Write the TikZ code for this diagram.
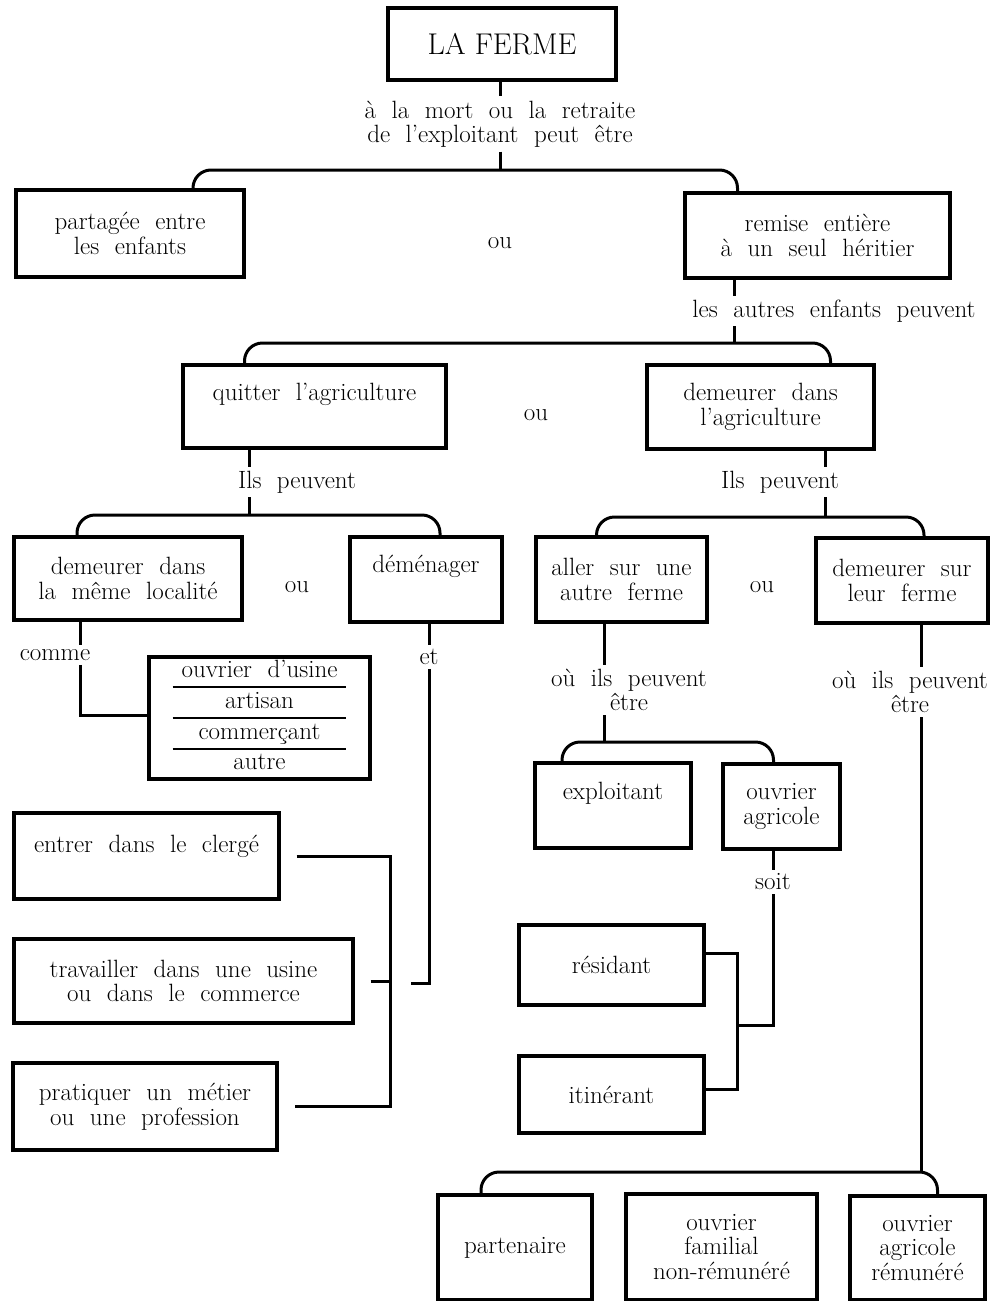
\documentclass[tikz,border=0pt]{standalone}
\usepackage{tikz}
\usetikzlibrary{positioning, calc}
\newcommand{\fermetext}{\fontsize{25}{24.5}\selectfont\spaceskip=0.62em plus 0.1em\relax}
\newcommand{\fermetitle}{\fontsize{30}{30}\selectfont}

\begin{document}
\begin{tikzpicture}[
    x=1pt, y=-1pt,
    box/.style={rectangle, draw, line width=3.2pt, align=center,
                inner sep=2pt, font=\fermetext},
    topbox/.style={box, inner ysep=0pt},
    listbox/.style={rectangle, draw, line width=3.2pt, inner sep=0pt,
                    font=\fermetext},
    lbl/.style={align=center, inner sep=4pt, font=\fermetext},
    conn/.style={line width=3pt},
    brace/.style={conn, rounded corners=18pt},
  ]
    \useasboundingbox (0,0) rectangle (1001,1301);

    % Level 0: the farm
    \node[box, font=\fermetitle, minimum width=228pt, minimum height=72pt]
      (FERME) at (502,44) {LA FERME};
    \node[lbl] (MORT) at (500,124)
      {à la mort ou la retraite\\de l'exploitant peut être};
    \coordinate (J1) at (500,170);

    % Level 1
    \node[box, minimum width=228pt, minimum height=87pt] (PART) at (130,233.5)
      {partagée entre\\les enfants};
    \node[lbl] (OUA) at (500,243) {ou};
    \node[box, minimum width=265pt, minimum height=85pt] (REMISE) at (817.5,235.5)
      {remise entière\\à un seul héritier};
    \node[lbl] (AUTRES) at (834,311) {les autres enfants peuvent};
    \coordinate (J2) at (734,343);

    % Level 2
    \node[topbox, minimum width=263pt, text height=35pt, text depth=48pt]
      (QUIT) at (314.5,406.5) {quitter l'agriculture};
    \node[lbl] (OUB) at (536,415) {ou};
    \node[box, minimum width=227pt, minimum height=84pt] (AGRI) at (760.5,407)
      {demeurer dans\\l'agriculture};
    \node[lbl] (ILS1) at (297,482) {Ils peuvent};
    \node[lbl] (ILS2) at (780,482) {Ils peuvent};
    \coordinate (J3) at (249,515);
    \coordinate (J4) at (825,517);

    % Level 3
    \node[box, minimum width=228pt, minimum height=83pt] (LOC) at (128,578.5)
      {demeurer dans\\la même localité};
    \node[lbl] (OUC) at (297,587) {ou};
    \node[topbox, minimum width=152pt, text height=35pt, text depth=50pt]
      (DEM) at (426,579.5) {déménager};
    \node[box, minimum width=171pt, minimum height=85pt] (ALLER) at (621.5,579.5)
      {aller sur une\\autre ferme};
    \node[lbl] (OUD) at (762,587) {ou};
    \node[box, minimum width=172pt, minimum height=85pt] (SUR) at (902,580.5)
      {demeurer sur\\leur ferme};

    % Left branch: leaving
    \node[lbl] (COMME) at (55,655) {comme};
    \coordinate (J8) at (80,715);
    \node[listbox, minimum width=221pt, minimum height=122pt] (METIERS) at (259.5,718)
      {\renewcommand{\arraystretch}{1.18}\setlength{\arrayrulewidth}{1.8pt}%
       \setlength{\tabcolsep}{9pt}%
       \begin{tabular}{c}
         ouvrier d'usine\\ \hline artisan\\ \hline commerçant\\ \hline autre
       \end{tabular}};
    \node[lbl] (ET) at (429,657) {et};
    \coordinate (ETEND) at (411,983);
    \node[topbox, minimum width=265pt, text height=39pt, text depth=47pt]
      (CLERGE) at (146.5,856) {entrer dans le clergé};
    \node[box, minimum width=339pt, minimum height=84pt] (TRAV) at (183.5,981)
      {travailler dans une usine\\ou dans le commerce};
    \node[box, minimum width=264pt, minimum height=87pt] (PRAT) at (145,1106.5)
      {pratiquer un métier\\ou une profession};
    \coordinate (J10) at (390,981);

    % Right branch: staying
    \node[lbl] (OU1) at (629,690) {où ils peuvent\\être};
    \coordinate (J5) at (604,742);
    \node[topbox, minimum width=156pt, text height=36pt, text depth=49pt]
      (EXPL) at (613,805.5) {exploitant};
    \node[box, minimum width=117pt, minimum height=85pt] (OUVAG) at (781.5,806.5)
      {ouvrier\\agricole};
    \node[lbl] (SOIT) at (773,882) {soit};
    \coordinate (J11) at (737,1025);
    \node[box, minimum width=185pt, minimum height=80pt] (RES) at (611.5,965) {résidant};
    \node[box, minimum width=185pt, minimum height=77pt] (ITIN) at (611.5,1094.5) {itinérant};
    \node[lbl] (OU2) at (910,692) {où ils peuvent\\être};
    \coordinate (J7) at (921,1172);
    \coordinate (J6) at (720,1172);
    \node[box, minimum width=154pt, minimum height=105pt] (PARTEN) at (515,1247.5)
      {partenaire};
    \node[box, minimum width=191pt, minimum height=106pt] (FAMIL) at (721.5,1247)
      {ouvrier\\familial\\non-rémunéré};
    \node[box, minimum width=135pt, minimum height=104pt] (REMUN) at (917.5,1248)
      {ouvrier\\agricole\\rémunéré};

    % Connectors
    \draw[conn] (J1 |- FERME.south) -- (J1 |- MORT.north);
    \draw[conn] (J1 |- MORT.south) -- (J1);
    \draw[brace] ([xshift=63pt]PART.north) |- (J1) -| ([xshift=-80pt]REMISE.north);

    \draw[conn] (J2 |- REMISE.south) -- (J2 |- AUTRES.north);
    \draw[conn] (J2 |- AUTRES.south) -- (J2);
    \draw[brace] ([xshift=-70pt]QUIT.north) |- (J2) -| ([xshift=70pt]AGRI.north);

    \draw[conn] (J3 |- QUIT.south) -- (J3 |- ILS1.north);
    \draw[conn] (J3 |- ILS1.south) -- (J3);
    \draw[brace] ([xshift=-51pt]LOC.north) |- (J3) -| ([xshift=14pt]DEM.north);

    \draw[conn] (J4 |- AGRI.south) -- (J4 |- ILS2.north);
    \draw[conn] (J4 |- ILS2.south) -- (J4);
    \draw[brace] ([xshift=-25pt]ALLER.north) |- (J4) -| ([xshift=22pt]SUR.north);

    \draw[conn] (J8 |- LOC.south) -- (J8 |- COMME.north);
    \draw[conn] (J8 |- COMME.south) -- (J8) -- (J8 -| METIERS.west);

    \draw[conn] (ET |- DEM.south) -- (ET.north);
    \draw[conn] (ET.south) |- (ETEND);
    \draw[conn] ([xshift=16pt]CLERGE.east) -| (J10) |- ([xshift=16pt]PRAT.east);
    \draw[conn] ([xshift=16pt]TRAV.east) -- (J10);

    \draw[conn] (J5 |- ALLER.south) -- (J5 |- OU1.north);
    \draw[conn] (J5 |- OU1.south) -- (J5);
    \draw[brace] ([xshift=-51pt]EXPL.north) |- (J5) -| ([xshift=-8pt]OUVAG.north);

    \draw[conn] (SOIT |- OUVAG.south) -- (SOIT.north);
    \draw[conn] (SOIT.south) |- (J11);
    \draw[conn] ([yshift=12pt]RES.east) -| (J11) |- ([yshift=5pt]ITIN.east);

    \draw[conn] (J7 |- SUR.south) -- (J7 |- OU2.north);
    \draw[conn] (J7 |- OU2.south) -- (J7);
    \draw[brace] ([xshift=-34pt]PARTEN.north) |- (J6) -| ([xshift=20pt]REMUN.north);
\end{tikzpicture}
\end{document}
